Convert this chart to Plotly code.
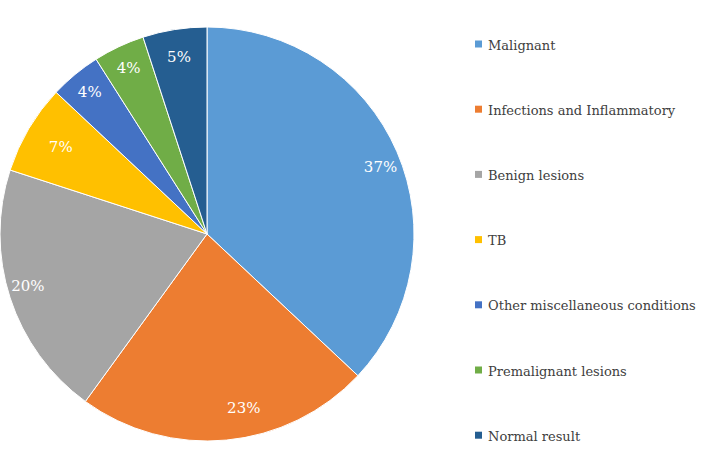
import plotly.graph_objects as go

categories = ["Malignant", "Infections and Inflammatory", "Benign lesions", "TB",
              "Other miscellaneous conditions", "Premalignant lesions", "Normal result"]
values = [37, 23, 20, 7, 4, 4, 5]
colors = ["#5B9BD5", "#ED7D31", "#A5A5A5", "#FFC000", "#4472C4", "#70AD47", "#255E91"]

W, H = 705, 467
cx, cy, R = 207, 234, 207      # pie centre / radius in px
r_in = 166                      # helper ring carrying the labels of big slices
big = [v >= 10 for v in values]

fig = go.Figure()
# main pie (labels of small slices inside)
fig.add_trace(go.Pie(
    labels=categories, values=values, sort=False, direction="clockwise", rotation=0,
    marker=dict(colors=colors, line=dict(color="white", width=1)),
    texttemplate="%{percent:.0%}",
    textposition=["none" if b else "inside" for b in big],
    insidetextorientation="horizontal",
    textfont=dict(family="DejaVu Serif", size=15, color="white"),
    domain=dict(x=[(cx - R) / W, (cx + R) / W], y=[(H - cy - R) / H, (H - cy + R) / H]),
    showlegend=False, hoverinfo="label+percent",
))
# transparent helper pie: carries labels of big slices near the rim
fig.add_trace(go.Pie(
    labels=categories, values=values, sort=False, direction="clockwise", rotation=0,
    marker=dict(colors=["rgba(0,0,0,0)"] * len(values), line=dict(width=0)),
    texttemplate="%{percent:.0%}",
    textposition=["outside" if b else "none" for b in big],
    outsidetextfont=dict(family="DejaVu Serif", size=15, color="white"),
    domain=dict(x=[(cx - r_in) / W, (cx + r_in) / W], y=[(H - cy - r_in) / H, (H - cy + r_in) / H]),
    showlegend=False, hoverinfo="skip", automargin=False,
))

# manual legend
y0, step = 44, 65.2
for i, (c, col) in enumerate(zip(categories, colors)):
    yc = y0 + i * step
    fig.add_shape(type="rect", xref="paper", yref="paper",
                  x0=475 / W, x1=482 / W, y0=1 - (yc + 3.5) / H, y1=1 - (yc - 3.5) / H,
                  fillcolor=col, line=dict(width=0))
    fig.add_annotation(x=486 / W, y=1 - (yc + 1) / H, xref="paper", yref="paper",
                       text=c, showarrow=False, xanchor="left", yanchor="middle",
                       font=dict(family="DejaVu Serif", size=13, color="#404040"))

fig.update_layout(width=W, height=H, margin=dict(l=0, r=0, t=0, b=0),
                  paper_bgcolor="white", plot_bgcolor="white")
fig.write_html("out.html", config={"displayModeBar": False},
               post_script="document.body.style.margin='0px';")
